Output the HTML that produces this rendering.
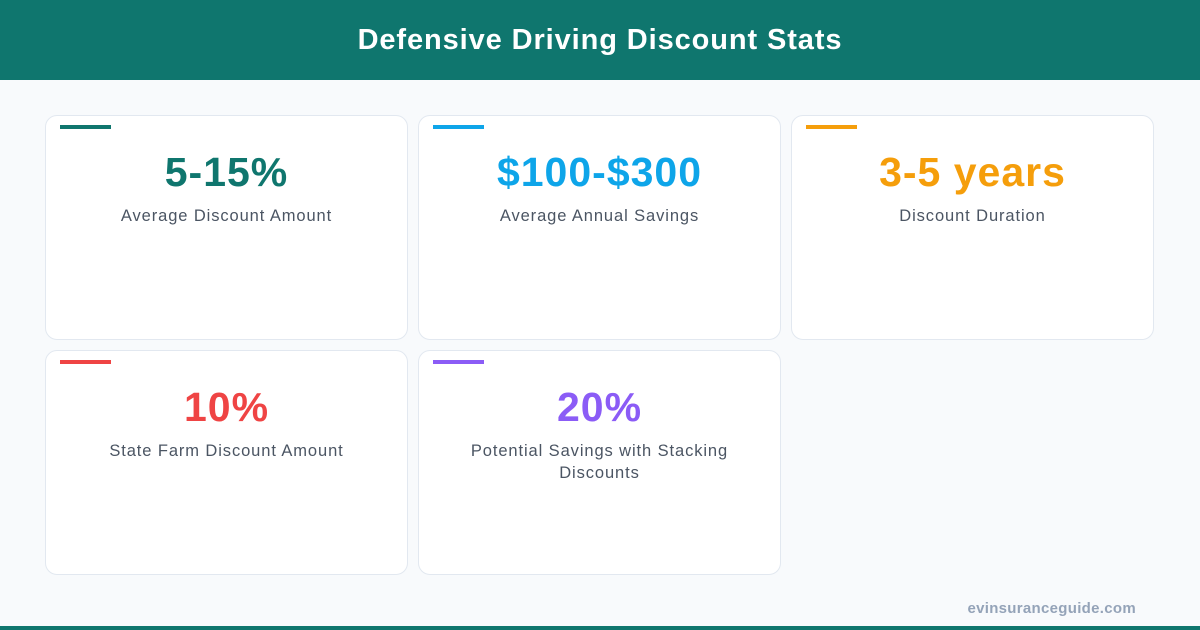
<!DOCTYPE html>
<html><head><style>
body{margin:0;width:1200px;height:630px;background:#f8fafc;font-family:"Liberation Sans",sans-serif;position:relative;overflow:hidden}
.h{position:absolute;left:0;top:0;width:1200px;height:80px;background:#0f766e;color:#fff;font-weight:bold;font-size:29px;letter-spacing:0.9px;text-align:center;line-height:80px}
.c{position:absolute;width:361px;height:223px;background:#fff;border:1px solid #e2e8f0;border-radius:12px}
.b{position:absolute;left:14px;top:9px;width:51px;height:4px}
.v{position:absolute;left:0;right:0;top:32px;text-align:center;font-weight:bold;font-size:41px;letter-spacing:1px;line-height:48px}
.l{position:absolute;left:30px;right:30px;top:89px;text-align:center;font-size:16.5px;letter-spacing:0.9px;color:#4b5563;line-height:22px}
.f{position:absolute;right:64px;top:600px;color:#94a3b8;font-weight:bold;font-size:15px;letter-spacing:0.3px}
.bb{position:absolute;left:0;top:626px;width:1200px;height:4px;background:#0f766e}
</style></head><body>
<div class="h">Defensive Driving Discount Stats</div>
<div class="c" style="left:45px;top:115px"><div class="b" style="background:#0f766e"></div><div class="v" style="color:#0f766e">5-15%</div><div class="l">Average Discount Amount</div></div>
<div class="c" style="left:418px;top:115px"><div class="b" style="background:#0ea5e9"></div><div class="v" style="color:#0ea5e9">$100-$300</div><div class="l">Average Annual Savings</div></div>
<div class="c" style="left:791px;top:115px"><div class="b" style="background:#f59e0b"></div><div class="v" style="color:#f59e0b">3-5 years</div><div class="l">Discount Duration</div></div>
<div class="c" style="left:45px;top:350px"><div class="b" style="background:#ef4444"></div><div class="v" style="color:#ef4444">10%</div><div class="l">State Farm Discount Amount</div></div>
<div class="c" style="left:418px;top:350px"><div class="b" style="background:#8b5cf6"></div><div class="v" style="color:#8b5cf6">20%</div><div class="l" style="left:45px;right:45px">Potential Savings with Stacking Discounts</div></div>
<div class="f">evinsuranceguide.com</div>
<div class="bb"></div>
</body></html>
